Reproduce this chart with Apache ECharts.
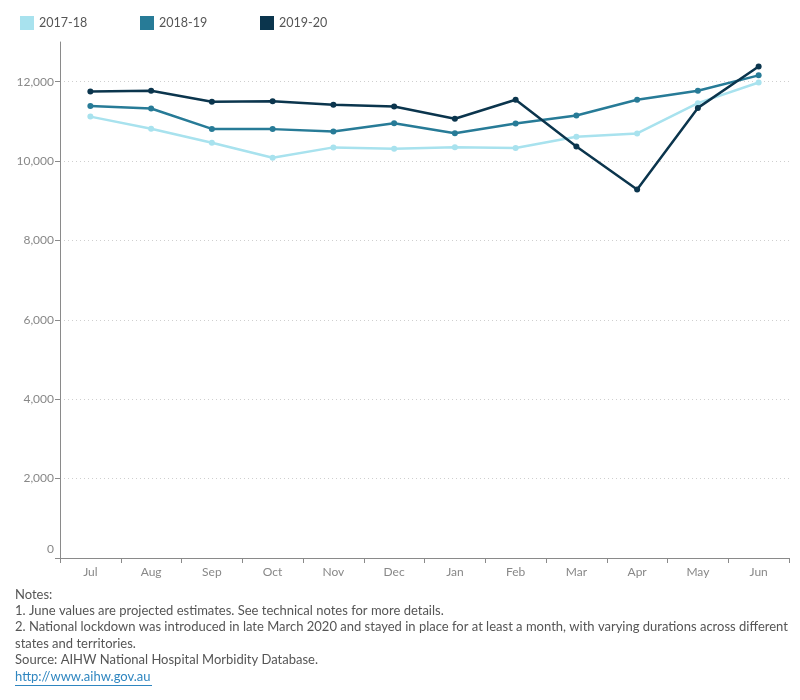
<!DOCTYPE html>
<html>
<head>
<meta charset="utf-8">
<script src="https://cdn.jsdelivr.net/npm/echarts@6/dist/echarts.min.js"></script>
<style>
  html, body { margin: 0; padding: 0; background: #fff; }
  #chart { width: 800px; height: 700px; }
</style>
</head>
<body>
<div id="chart"></div>
<script>
// months of the financial year
var months = ["Jul", "Aug", "Sep", "Oct", "Nov", "Dec", "Jan", "Feb", "Mar", "Apr", "May", "Jun"]
var seriesNames = ["2017-18", "2018-19", "2019-20"]
var seriesColors = ["#a8e2ee", "#277b97", "#0b354d"]

// values
var fy1718 = [11120, 10815, 10460, 10085, 10345, 10310, 10350, 10330, 10615, 10695, 11460, 11980]
var fy1819 = [11385, 11325, 10810, 10805, 10745, 10955, 10700, 10945, 11150, 11545, 11770, 12160]
var fy1920 = [11755, 11770, 11495, 11510, 11420, 11375, 11065, 11545, 10365, 9285, 11340, 12385]

var yTicks = [0, 2000, 4000, 6000, 8000, 10000, 12000]

var noteLines = [
    "Notes:",
    "1. June values are projected estimates. See technical notes for more details.",
    "2. National lockdown was introduced in late March 2020 and stayed in place for at least a month, with varying durations across different",
    "states and territories.",
    "Source: AIHW National Hospital Morbidity Database."
]
var linkText = "http://www.aihw.gov.au"

var FONT = "Lato"
var chart = echarts.init(document.getElementById("chart"))

var allData = [fy1718, fy1819, fy1920]
var series = allData.map(function(d, i) {
    return {
        name: seriesNames[i],
        type: "line",
        data: d,
        symbol: "circle",
        symbolSize: 6,
        lineStyle: { width: 2.5, color: seriesColors[i] },
        itemStyle: { color: seriesColors[i] },
        z: 2 + i
    }
})

// one legend per year so each sits at its own spot
var legends = seriesNames.map(function(n, i) {
    return {
        left: 15 + i * 120,
        top: 11,
        itemWidth: 14,
        itemHeight: 14,
        itemGap: 6,
        icon: "rect",
        data: [n],
        textStyle: { fontFamily: FONT, fontSize: 12.5, color: "#555" }
    }
})

// notes under the chart
var graphics = noteLines.map(function(t, i) {
    return {
        type: "text",
        left: 15,
        top: 588 + i * 16.4,
        style: { text: t, font: "13px " + FONT, fill: "#555" }
    }
})
graphics.push({
    type: "text",
    left: 15,
    top: 588 + 5 * 16.4,
    style: { text: linkText, font: "13px " + FONT, fill: "#2f86c0" }
})
graphics.push({
    type: "rect",
    left: 15,
    top: 685,
    shape: { width: 137, height: 1 },
    style: { fill: "#2f86c0" }
})

var option = {
    animation: false,
    color: seriesColors,
    legend: legends,
    grid: { left: 60, right: 11, top: 42, bottom: 142 },
    xAxis: {
        type: "category",
        data: months,
        boundaryGap: true,
        axisLine: { lineStyle: { color: "#8a8a8a", width: 1 } },
        axisTick: { show: true, length: 5, lineStyle: { color: "#8a8a8a" } },
        axisLabel: { fontFamily: FONT, fontSize: 12, color: "#888", margin: 8 }
    },
    yAxis: {
        type: "value",
        min: 0,
        max: 13000,
        interval: 2000,
        axisLine: { show: true, lineStyle: { color: "#8a8a8a", width: 1 } },
        axisTick: { show: true, length: 5, customValues: yTicks, lineStyle: { color: "#8a8a8a" } },
        axisLabel: {
            customValues: yTicks,
            fontFamily: FONT,
            fontSize: 12,
            color: "#888",
            margin: 6,
            formatter: function(v) {
                if (v === 0) return "{z|0}"
                return echarts.format.addCommas(v)
            },
            rich: { z: { fontFamily: FONT, fontSize: 12, color: "#888", padding: [0, 0, 18, 0] } }
        },
        splitLine: { show: true, lineStyle: { color: "#cfcfcf", type: [1, 3], width: 1 } }
    },
    series: series,
    graphic: graphics
}

chart.setOption(option)
</script>
</body>
</html>
